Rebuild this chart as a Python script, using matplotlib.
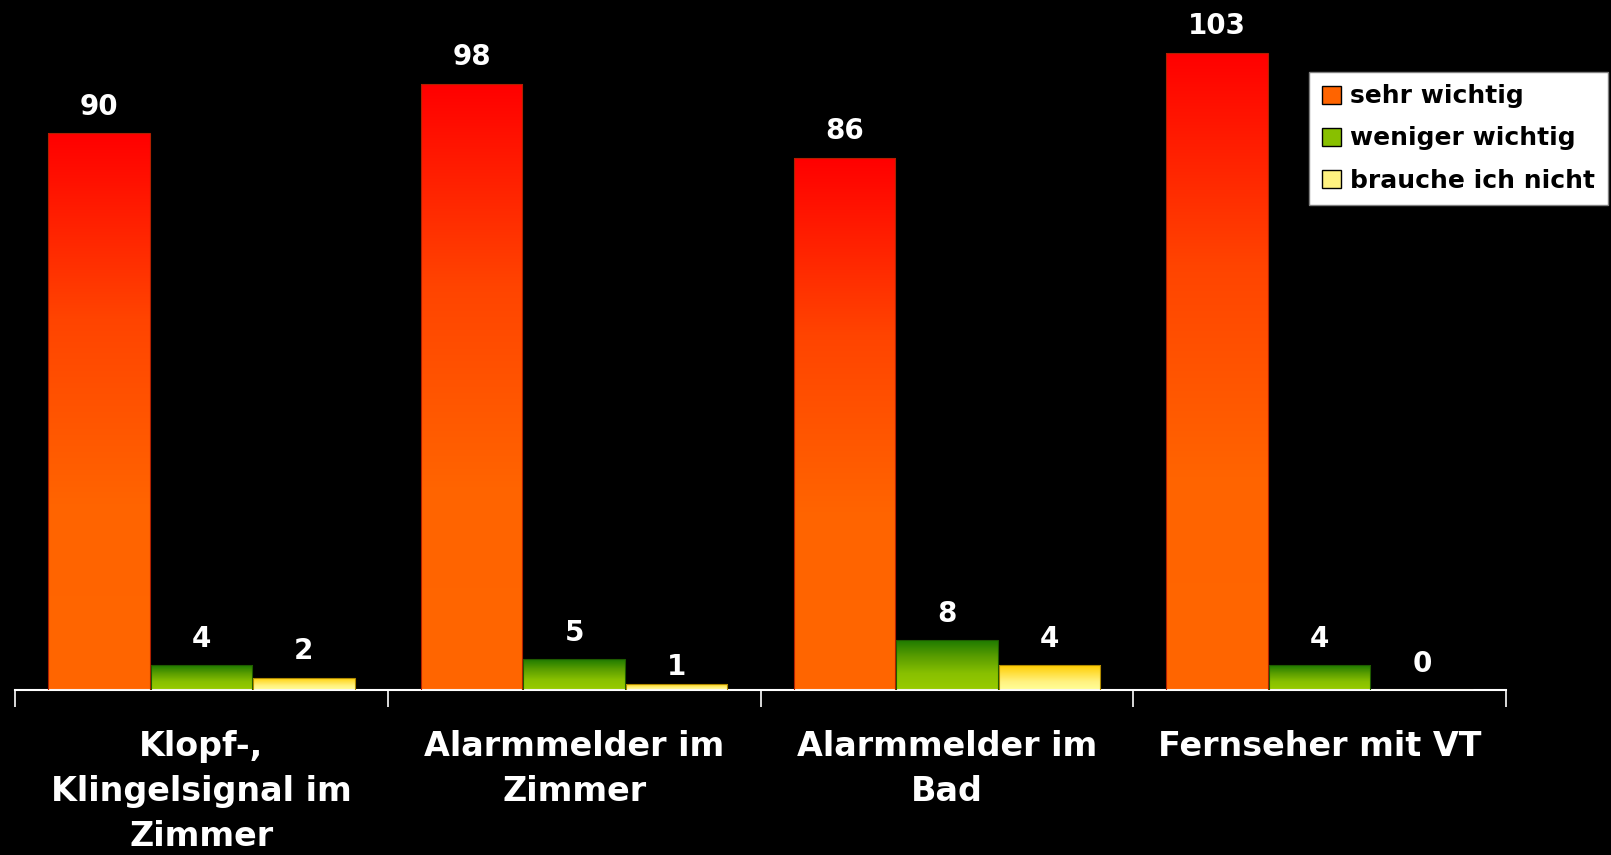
import numpy as np
import matplotlib.pyplot as plt
from matplotlib.colors import LinearSegmentedColormap
from matplotlib.patches import Patch

categories = ["Klopf-,\nKlingelsignal im\nZimmer", "Alarmmelder im\nZimmer",
              "Alarmmelder im\nBad", "Fernseher mit VT"]
series = ["sehr wichtig", "weniger wichtig", "brauche ich nicht"]
sehr = [90, 98, 86, 103]
weniger = [4, 5, 8, 4]
brauche = [2, 1, 4, 0]
values = [sehr, weniger, brauche]

# gradient colours (bottom -> top) and edge colours per series
grads = [["#FF6600", "#FF6400", "#FF4400", "#FF0000"],
         ["#99CC00", "#88C000", "#5A9E00", "#1E7A00"],
         ["#FFFF99", "#FFF280", "#FFE040", "#FFCC00"]]
edges = ["#B02000", "#1E5A00", "#B08A00"]

plt.rcParams['font.family'] = ['DejaVu Sans']
fig = plt.figure(figsize=(16.11, 8.55), dpi=100, facecolor="black")
ax = fig.add_axes([15/1611, 1 - 690/855, (1506-15)/1611, 690/855])
ax.set_facecolor("black")

n = len(categories)
x = np.arange(n)
w = 0.275
offs = [-w, 0, w]

for s in range(3):
    cmap = LinearSegmentedColormap.from_list("g%d" % s, grads[s])
    bars = ax.bar(x + offs[s], values[s], width=w*0.99, color="none",
                  edgecolor=edges[s], linewidth=0.8, zorder=3)
    for b, v in zip(bars, values[s]):
        if v <= 0:
            continue
        x0, y0 = b.get_x(), b.get_y()
        grad = np.linspace(0, 1, 256).reshape(-1, 1)
        im = ax.imshow(grad, cmap=cmap, origin="lower", aspect="auto",
                       extent=[x0, x0 + b.get_width(), y0, y0 + b.get_height()],
                       zorder=2)
        im.set_clip_path(b)
    for xi, v in zip(x + offs[s], values[s]):
        off = 2 if v == 1 else 9
        ax.annotate(str(v), (xi, v), xytext=(0, off), textcoords="offset points",
                    ha="center", va="bottom", color="white", fontsize=20,
                    fontweight="bold", zorder=5,
                    bbox=dict(facecolor="black", edgecolor="none", pad=1))

ax.set_xlim(-0.5, n - 0.5)
ax.set_ylim(0, 111.5)
ax.set_yticks([])
for sp in ["top", "right", "left"]:
    ax.spines[sp].set_visible(False)
ax.spines["bottom"].set_color("white")
ax.spines["bottom"].set_linewidth(1.5)
ax.set_xticks(np.arange(n + 1) - 0.5)
ax.set_xticklabels([])
ax.tick_params(axis="x", colors="white", length=12, width=1.2)
ax.set_xticks(x, minor=True)
ax.set_xticklabels(categories, minor=True, color="white", fontsize=24,
                   fontweight="bold", linespacing=1.45)
ax.tick_params(axis="x", which="minor", length=0, pad=29)

handles = [Patch(facecolor=grads[s][1], edgecolor="black") for s in range(3)]
leg = ax.legend(handles, series, loc="upper right", bbox_to_anchor=(1608/1611, 1 - 72/855),
                bbox_transform=fig.transFigure, fontsize=18, frameon=True,
                fancybox=False, framealpha=1, handlelength=0.75, handleheight=0.75,
                handletextpad=0.4, borderpad=0.5, labelspacing=0.72,
                borderaxespad=0)
leg.get_frame().set_edgecolor("#808080")
leg.get_frame().set_facecolor("white")
for t in leg.get_texts():
    t.set_fontweight("bold")
    t.set_color("black")

fig.savefig("out.png", dpi=100, facecolor="black")
